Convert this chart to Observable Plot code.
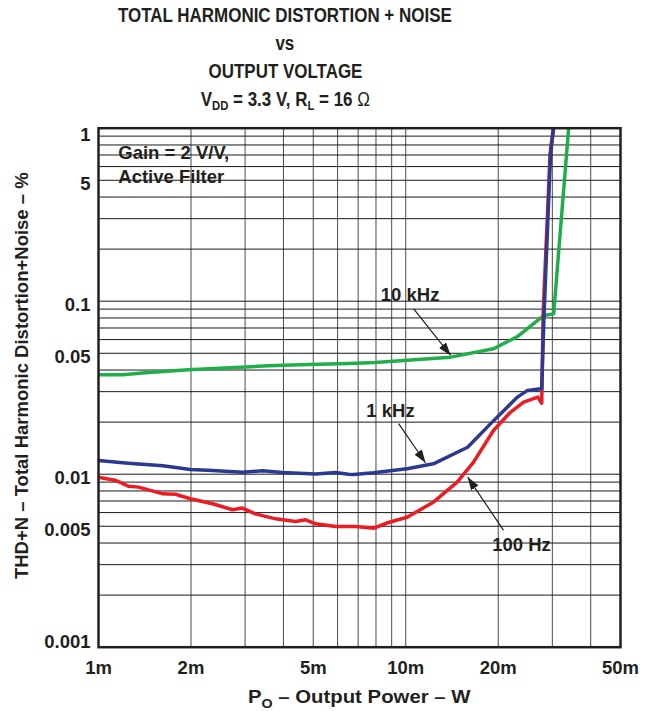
<!DOCTYPE html>
<html>
<head>
<meta charset="utf-8">
<script src="https://cdn.jsdelivr.net/npm/d3@7"></script>
<script src="https://cdn.jsdelivr.net/npm/@observablehq/plot@0.6"></script>
<style>
  html, body { margin: 0; padding: 0; background: #fff; overflow: hidden; }
  body { font-family: "Liberation Sans", Arial, sans-serif; font-weight: bold; color: #231f20; }
  #title { width: 570px; height: 115px; text-align: center; font-size: 19.5px; padding-top: 1px; box-sizing: border-box; }
  #title div { height: 28px; line-height: 28px; white-space: nowrap; }
  #title span.c { display: inline-block; transform: scaleX(0.87); transform-origin: 50% 50%; }
  #title sub { font-size: 13px; vertical-align: -4px; line-height: 0; }
  #chart svg { display: block; }
  #xlabel { margin-left: 98px; width: 522px; height: 22px; line-height: 22px; text-align: center; font-size: 18.5px; white-space: nowrap; }
  #xlabel span.w { display: inline-block; transform: scaleX(1.1); transform-origin: 50% 50%; }
  #xlabel sub { font-size: 13px; vertical-align: -5px; line-height: 0; }
</style>
</head>
<body>
<div id="title">
  <div><span class="c">TOTAL HARMONIC DISTORTION + NOISE</span></div>
  <div><span class="c">vs</span></div>
  <div><span class="c">OUTPUT VOLTAGE</span></div>
  <div><span class="c">V<sub>DD</sub> = 3.3 V, R<sub>L</sub> = 16 <span style="font-weight:normal">Ω</span></span></div>
</div>
<div id="chart"></div>
<div id="xlabel"><span class="w">P<sub>O</sub> – Output Power – W</span></div>
<script>
// ---- Data (output power in W, THD+N in %) ----
const p10k   = [0.00100, 0.00120, 0.00142, 0.00196, 0.00279, 0.00357, 0.00483, 0.00651, 0.00797, 0.00984, 0.0140, 0.0193, 0.0231, 0.0281, 0.0303, 0.0339];
const thd10k = [0.0376, 0.0376, 0.0386, 0.0401, 0.0414, 0.0423, 0.0430, 0.0436, 0.0442, 0.0454, 0.0475, 0.0531, 0.0625, 0.0826, 0.0845, 1.0];

const p1k   = [0.00100, 0.00125, 0.00162, 0.00199, 0.00235, 0.00294, 0.00342, 0.00397, 0.00509, 0.00591, 0.00651, 0.00676, 0.00785, 0.0101, 0.0123, 0.0159, 0.0189, 0.0231, 0.0249, 0.0275, 0.0277, 0.0282, 0.0296, 0.0303];
const thd1k = [0.0120, 0.01158, 0.0112, 0.01065, 0.0105, 0.01027, 0.01046, 0.01022, 0.01004, 0.01022, 0.0100, 0.00996, 0.0102, 0.01074, 0.01148, 0.01432, 0.0196, 0.0279, 0.0305, 0.0312, 0.0312, 0.0851, 0.711, 1.0];

const p100   = [0.00100, 0.00114, 0.00125, 0.00135, 0.00162, 0.00178, 0.00199, 0.00235, 0.00273, 0.00294, 0.00324, 0.00377, 0.00438, 0.00472, 0.00509, 0.00591, 0.00687, 0.00785, 0.00873, 0.0101, 0.0123, 0.0147, 0.0166, 0.0193, 0.0219, 0.0242, 0.0269, 0.0277, 0.0280, 0.0295, 0.0302];
const thd100 = [0.0096, 0.0092, 0.00853, 0.00842, 0.0077, 0.00766, 0.00721, 0.00675, 0.00623, 0.00637, 0.0059, 0.00552, 0.00533, 0.00545, 0.00517, 0.00499, 0.00499, 0.00487, 0.00524, 0.00564, 0.00689, 0.0090, 0.0117, 0.0179, 0.0228, 0.0261, 0.0279, 0.0257, 0.085, 0.711, 1.0];

const xTicks = [0.001, 0.002, 0.005, 0.01, 0.02, 0.05];
const xTickLabels = ["1m", "2m", "5m", "10m", "20m", "50m"];
const yTicksTop = [1];
const yTickLabelsTop = ["1"];
const yTicksMid = [0.5, 0.1, 0.05, 0.01, 0.005];
const yTickLabelsMid = ["5", "0.1", "0.05", "0.01", "0.005"];
const yTicksBottom = [0.001];
const yTickLabelsBottom = ["0.001"];
const yLabel = "THD+N – Total Harmonic Distortion+Noise – %";
const xGrid = [0.002, 0.003, 0.004, 0.005, 0.006, 0.007, 0.008, 0.009, 0.01, 0.02, 0.03, 0.04];
const yGrid = [0.002, 0.003, 0.004, 0.005, 0.006, 0.007, 0.008, 0.009, 0.01,
               0.02, 0.03, 0.04, 0.05, 0.06, 0.07, 0.08, 0.09, 0.1,
               0.2, 0.3, 0.4, 0.5, 0.6, 0.7, 0.8, 0.9];

const seriesNames  = ["10 kHz", "1 kHz", "100 Hz"];
const seriesColors = ["#1fae4b", "#2b3990", "#ed1c24"];
const labelX = [0.01033, 0.00892, 0.0238];
const labelY = [0.108, 0.0233, 0.0039];
const arrowX1 = [0.0106, 0.00948, 0.0208];
const arrowY1 = [0.0907, 0.0196, 0.00475];
const arrowX2 = [0.0140, 0.0116, 0.0159];
const arrowY2 = [0.0486, 0.01165, 0.00962];
const noteText = "Gain = 2 V/V,\nActive Filter";
const noteX = 0.00116, noteY = 0.63;

// ---- Build tables ----
const mk = (ps, ts) => ps.map((p, i) => ({p, thd: ts[i]}));
const d10k = mk(p10k, thd10k), d1k = mk(p1k, thd1k), d100 = mk(p100, thd100);
const labels = seriesNames.map((t, i) => ({t, x: labelX[i], y: labelY[i]}));
const arrows = seriesNames.map((t, i) => ({x1: arrowX1[i], y1: arrowY1[i], x2: arrowX2[i], y2: arrowY2[i]}));

const ink = "#231f20";
const svgNS = "http://www.w3.org/2000/svg";
function headMarker(color, context) {
  const doc = context.document;
  const m = doc.createElementNS(svgNS, "marker");
  m.setAttribute("viewBox", "-13 -4.5 13 9");
  m.setAttribute("markerWidth", "13");
  m.setAttribute("markerHeight", "9");
  m.setAttribute("markerUnits", "userSpaceOnUse");
  m.setAttribute("orient", "auto");
  m.setAttribute("refX", "0");
  m.setAttribute("refY", "0");
  const p = doc.createElementNS(svgNS, "path");
  p.setAttribute("d", "M-13,-4.5L0,0L-13,4.5Z");
  p.setAttribute("fill", color);
  p.setAttribute("stroke", "none");
  m.appendChild(p);
  return m;
}

const yTickText = (ticks, labs, dy) =>
  Plot.text(ticks, {y: d => d, text: (d, i) => labs[i], frameAnchor: "left", textAnchor: "end", lineAnchor: "middle", dx: -8, dy, fill: ink, ariaLabel: "wide"});

const plot = Plot.plot({
  width: 655,
  height: 571,
  marginLeft: 98,
  marginRight: 35,
  marginTop: 12.7,
  marginBottom: 39.3,
  style: {fontFamily: "'Liberation Sans', Arial, sans-serif", fontSize: "18.5px", fontWeight: "bold", color: ink, background: "#fff"},
  x: {type: "log", domain: [0.001, 0.05], axis: null},
  y: {type: "log", domain: [0.001, 1], axis: null},
  marks: [
    Plot.ruleX(xGrid, {stroke: "#4a4a4a", strokeWidth: 1}),
    Plot.ruleY(yGrid, {stroke: "#1a1a1a", strokeWidth: 1}),
    Plot.line(d10k, {x: "p", y: "thd", stroke: seriesColors[0], strokeWidth: 3.5, clip: true}),
    Plot.line(d100, {x: "p", y: "thd", stroke: seriesColors[2], strokeWidth: 3.5, clip: true}),
    Plot.line(d1k, {x: "p", y: "thd", stroke: seriesColors[1], strokeWidth: 3.5, clip: true}),
    Plot.link(arrows, {x1: "x1", y1: "y1", x2: "x2", y2: "y2", stroke: ink, strokeWidth: 1.2, markerEnd: headMarker}),
    Plot.text(labels, {x: "x", y: "y", text: "t", fill: ink, textAnchor: "middle", ariaLabel: "boxed"}),
    Plot.text([noteText], {x: () => noteX, y: () => noteY, text: d => d, fill: ink, textAnchor: "start", lineAnchor: "middle", lineHeight: 1.3, ariaLabel: "boxed"}),
    Plot.frame({stroke: ink, strokeWidth: 2.5}),
    Plot.text(xTicks, {x: d => d, text: (d, i) => xTickLabels[i], frameAnchor: "bottom", textAnchor: "middle", lineAnchor: "middle", dy: 21, fill: ink, ariaLabel: "wide"}),
    yTickText(yTicksTop, yTickLabelsTop, 7),
    yTickText(yTicksMid, yTickLabelsMid, 4),
    yTickText(yTicksBottom, yTickLabelsBottom, -5),
    Plot.text([yLabel], {text: d => d, frameAnchor: "left", rotate: -90, textAnchor: "middle", lineAnchor: "middle", dx: -76, dy: -12, fill: ink, ariaLabel: "ylab"})
  ]
});
document.getElementById("chart").append(plot);

// widen chart text horizontally to match reference letterforms
plot.querySelectorAll('g[aria-label="wide"] text, g[aria-label="boxed"] text').forEach(t => {
  const tr = t.getAttribute("transform");
  if (tr) t.setAttribute("transform", tr + " scale(1.1,1)");
});
plot.querySelectorAll('g[aria-label="ylab"] text').forEach(t => {
  const tr = t.getAttribute("transform");
  if (tr) t.setAttribute("transform", tr + " scale(1.28,1)");
});

// white boxes behind annotation text
plot.querySelectorAll('g[aria-label="boxed"] text').forEach(t => {
  const b = t.getBBox();
  const r = document.createElementNS(svgNS, "rect");
  r.setAttribute("x", b.x - 5);
  r.setAttribute("y", b.y - 2);
  r.setAttribute("width", b.width + 10);
  r.setAttribute("height", b.height + 4);
  r.setAttribute("fill", "#fff");
  r.setAttribute("stroke", "none");
  const tr = t.getAttribute("transform");
  if (tr) r.setAttribute("transform", tr);
  t.parentNode.insertBefore(r, t);
});
</script>
</body>
</html>
